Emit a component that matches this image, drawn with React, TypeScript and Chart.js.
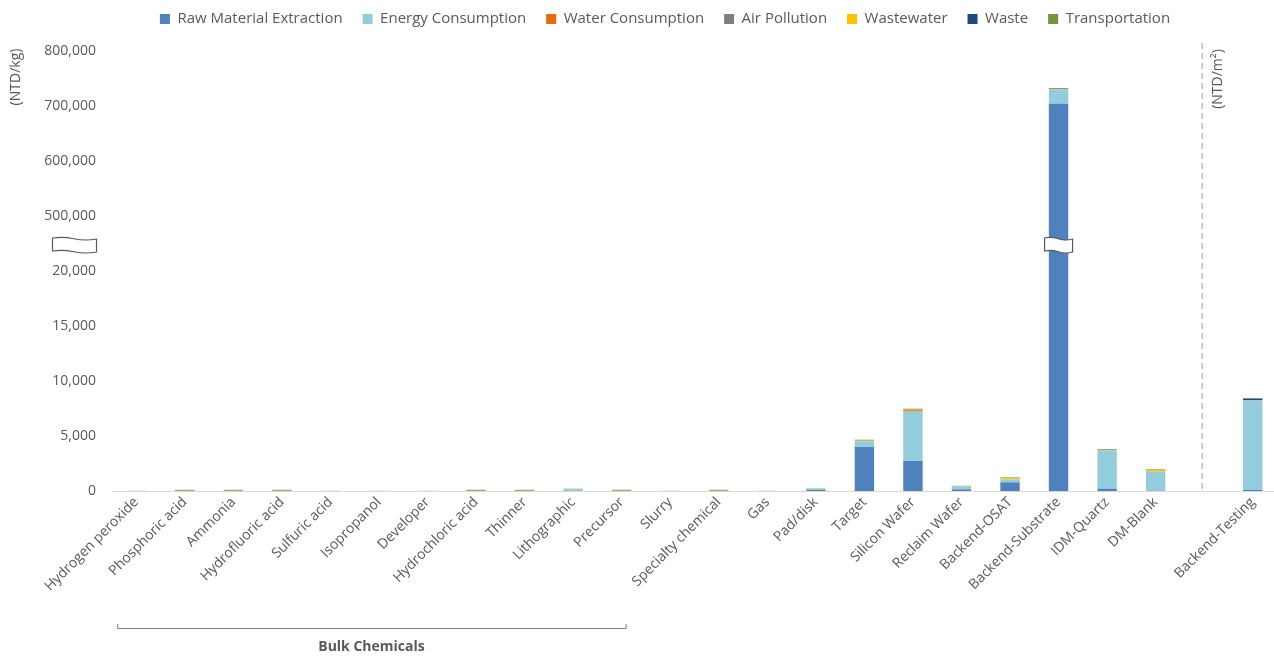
import React, { useEffect, useRef } from 'react';
import { Chart, registerables } from 'chart.js';

Chart.register(...registerables);

const categories = [
  'Hydrogen peroxide', 'Phosphoric acid', 'Ammonia', 'Hydrofluoric acid', 'Sulfuric acid',
  'Isopropanol', 'Developer', 'Hydrochloric acid', 'Thinner', 'Lithographic', 'Precursor',
  'Slurry', 'Specialty chemical', 'Gas', 'Pad/disk', 'Target', 'Silicon Wafer', 'Reclaim Wafer',
  'Backend-OSAT', 'Backend-Substrate', 'IDM-Quartz', 'DM-Blank', '', 'Backend-Testing',
];

const rawMaterial = [5, 5, 5, 5, 5, 5, 5, 5, 5, 20, 5, 5, 5, 5, 120, 4000, 2730, 150, 790, 704000, 210, 20, null, 90];
const energy = [5, 10, 10, 10, 5, 5, 5, 10, 10, 120, 10, 5, 10, 5, 50, 520, 4490, 250, 240, 26000, 3460, 1730, null, 8130];
const water = [0, 0, 0, 0, 0, 0, 0, 0, 0, 0, 0, 0, 0, 0, 0, 10, 120, 0, 5, 400, 5, 5, null, 10];
const airPollution = [0, 0, 0, 0, 0, 0, 0, 0, 0, 0, 0, 0, 0, 0, 0, 5, 20, 0, 5, 100, 5, 5, null, 20];
const wastewater = [0, 5, 5, 5, 0, 0, 0, 5, 5, 5, 5, 0, 5, 0, 5, 40, 30, 20, 120, 200, 20, 150, null, 10];
const waste = [0, 0, 0, 0, 0, 0, 0, 0, 0, 0, 0, 0, 0, 0, 0, 5, 10, 0, 10, 300, 5, 5, null, 150];
const transportation = [5, 90, 90, 90, 5, 5, 5, 90, 90, 60, 90, 5, 90, 5, 40, 80, 80, 50, 60, 1500, 90, 50, null, 20];

const seriesNames = [
  'Raw Material Extraction', 'Energy Consumption', 'Water Consumption', 'Air Pollution',
  'Wastewater', 'Waste', 'Transportation',
];
const seriesValues = [rawMaterial, energy, water, airPollution, wastewater, waste, transportation];
const seriesColors = ['#4f81bd', '#93cddd', '#e46c0a', '#7f7f7f', '#ffc000', '#1f497d', '#77933c'];

// Broken axis: ticks are evenly spaced, values between them are mapped linearly
const yTickValues = [0, 5000, 10000, 15000, 20000, 500000, 600000, 700000, 800000];
const yTickLabels = yTickValues.map((v) => v.toLocaleString('en-US'));

function toAxis(v: number): number {
  for (let i = 0; i < yTickValues.length - 1; i++) {
    const a = yTickValues[i];
    const b = yTickValues[i + 1];
    if (v <= b || i === yTickValues.length - 2) return i + (v - a) / (b - a);
  }
  return 0;
}

const FONT = "'Open Sans', sans-serif";
const TEXT = '#595959';
const LEGEND_PAD = 20;
const LEGEND_FONT = 15;

function drawBreak(ctx: CanvasRenderingContext2D, cx: number, cy: number, w: number, h: number) {
  const x0 = cx - w / 2;
  const x1 = cx + w / 2;
  const y0 = cy - h / 2;
  const y1 = cy + h / 2;
  ctx.save();
  ctx.beginPath();
  ctx.moveTo(x0, y0);
  ctx.bezierCurveTo(x0 + w * 0.5, y0 - 3, x0 + w * 0.5, y0 + 5, x1, y0 + 1);
  ctx.lineTo(x1, y1 + 1);
  ctx.bezierCurveTo(x0 + w * 0.5, y1 + 5, x0 + w * 0.5, y1 - 3, x0, y1);
  ctx.closePath();
  ctx.fillStyle = '#ffffff';
  ctx.fill();
  ctx.strokeStyle = '#595959';
  ctx.lineWidth = 1.2;
  ctx.stroke();
  ctx.restore();
}

const overlayPlugin = {
  id: 'overlay',
  beforeInit(chart: any) {
    const origFit = chart.legend.fit;
    chart.legend.fit = function () {
      origFit.call(this);
      this.height += 6;
    };
  },
  afterLayout(chart: any) {
    const L = chart.legend;
    const w = L.right - L.left;
    L.left = 665 - w / 2;
    L.right = L.left + w;
    L.top = 19 - LEGEND_FONT / 2 - LEGEND_PAD;
  },
  afterDraw(chart: any) {
    const ctx: CanvasRenderingContext2D = chart.ctx;
    const x = chart.scales.x;
    const y = chart.scales.y;
    const area = chart.chartArea;

    ctx.save();
    // y-axis unit titles
    ctx.fillStyle = TEXT;
    ctx.font = `14px ${FONT}`;
    ctx.textAlign = 'center';
    ctx.textBaseline = 'middle';
    ctx.save();
    ctx.translate(16, 77);
    ctx.rotate(-Math.PI / 2);
    ctx.fillText('(NTD/kg)', 0, 0);
    ctx.restore();
    ctx.save();
    ctx.translate(1218, 79);
    ctx.rotate(-Math.PI / 2);
    ctx.fillText('(NTD/m\u00b2)', 0, 0);
    ctx.restore();

    // dashed separator
    const xd = x.getPixelForValue(22) - 2;
    ctx.beginPath();
    ctx.setLineDash([6, 4]);
    ctx.strokeStyle = '#bfbfbf';
    ctx.lineWidth = 1.5;
    ctx.moveTo(xd, 43);
    ctx.lineTo(xd, area.bottom);
    ctx.stroke();
    ctx.setLineDash([]);

    // axis break symbols
    const yb = y.getPixelForValue(4.5) + 1;
    drawBreak(ctx, 74.5, yb, 44, 13);
    drawBreak(ctx, x.getPixelForValue(19), yb, 28, 13);

    // bracket for bulk chemicals
    const bx0 = x.getPixelForValue(0) - 19;
    const bx1 = x.getPixelForValue(10) + 4;
    const by = 628;
    ctx.beginPath();
    ctx.strokeStyle = '#7f7f7f';
    ctx.lineWidth = 1;
    ctx.moveTo(bx0 + 0.5, by - 4);
    ctx.lineTo(bx0 + 0.5, by + 0.5);
    ctx.lineTo(bx1 + 0.5, by + 0.5);
    ctx.lineTo(bx1 + 0.5, by - 4);
    ctx.stroke();
    ctx.font = `bold 14px ${FONT}`;
    ctx.fillStyle = TEXT;
    ctx.fillText('Bulk Chemicals', (bx0 + bx1) / 2, 647);
    ctx.restore();
  },
};

export default function App() {
  const canvasRef = useRef<HTMLCanvasElement | null>(null);

  useEffect(() => {
    if (!canvasRef.current) return;
    const stackedData = seriesValues.map(() => [] as any[]);
    for (let j = 0; j < categories.length; j++) {
      let cum = 0;
      for (let s = 0; s < seriesValues.length; s++) {
        const v = seriesValues[s][j];
        if (v === null || v === undefined) {
          stackedData[s].push(null);
          continue;
        }
        const start = cum;
        const end = cum + v;
        stackedData[s].push([toAxis(start), toAxis(end)]);
        cum = end;
      }
    }

    const chart = new Chart(canvasRef.current, {
      type: 'bar',
      data: {
        labels: categories,
        datasets: seriesNames.map((name, s) => ({
          label: name,
          data: stackedData[s],
          backgroundColor: seriesColors[s],
          borderWidth: 0,
          grouped: false,
          barPercentage: 0.4,
          categoryPercentage: 1,
        })),
      },
      options: {
        responsive: false,
        animation: false,
        layout: { padding: { top: 0, right: 13, left: 0, bottom: 0 } },
        plugins: {
          legend: {
            position: 'top',
            labels: {
              boxWidth: 10,
              boxHeight: 10,
              padding: LEGEND_PAD,
              color: TEXT,
              font: { family: FONT, size: LEGEND_FONT },
            },
          },
          tooltip: { enabled: false },
        },
        scales: {
          x: {
            grid: { display: false },
            border: { display: true, color: '#d9d9d9', width: 1 },
            ticks: {
              autoSkip: false,
              minRotation: 45,
              maxRotation: 45,
              padding: -5,
              color: TEXT,
              font: { family: FONT, size: 14 },
            },
            afterFit(scale: any) {
              scale.height = 168;
            },
          },
          y: {
            min: 0,
            max: yTickValues.length - 1,
            grid: { display: false, drawTicks: false },
            border: { display: false },
            ticks: {
              stepSize: 1,
              padding: 16,
              color: TEXT,
              font: { family: FONT, size: 14 },
              callback: (value: any) => yTickLabels[Math.round(Number(value))] ?? '',
            },
            afterFit(scale: any) {
              scale.width = 112;
            },
          },
        },
      },
      plugins: [overlayPlugin],
    } as any);

    return () => chart.destroy();
  }, []);

  return (
    <div style={{ position: 'absolute', left: 0, top: 0, width: 1274, height: 659, overflow: 'hidden', background: '#fff' }}>
      <canvas ref={canvasRef} width={1290} height={659} style={{ display: 'block' }} />
    </div>
  );
}
